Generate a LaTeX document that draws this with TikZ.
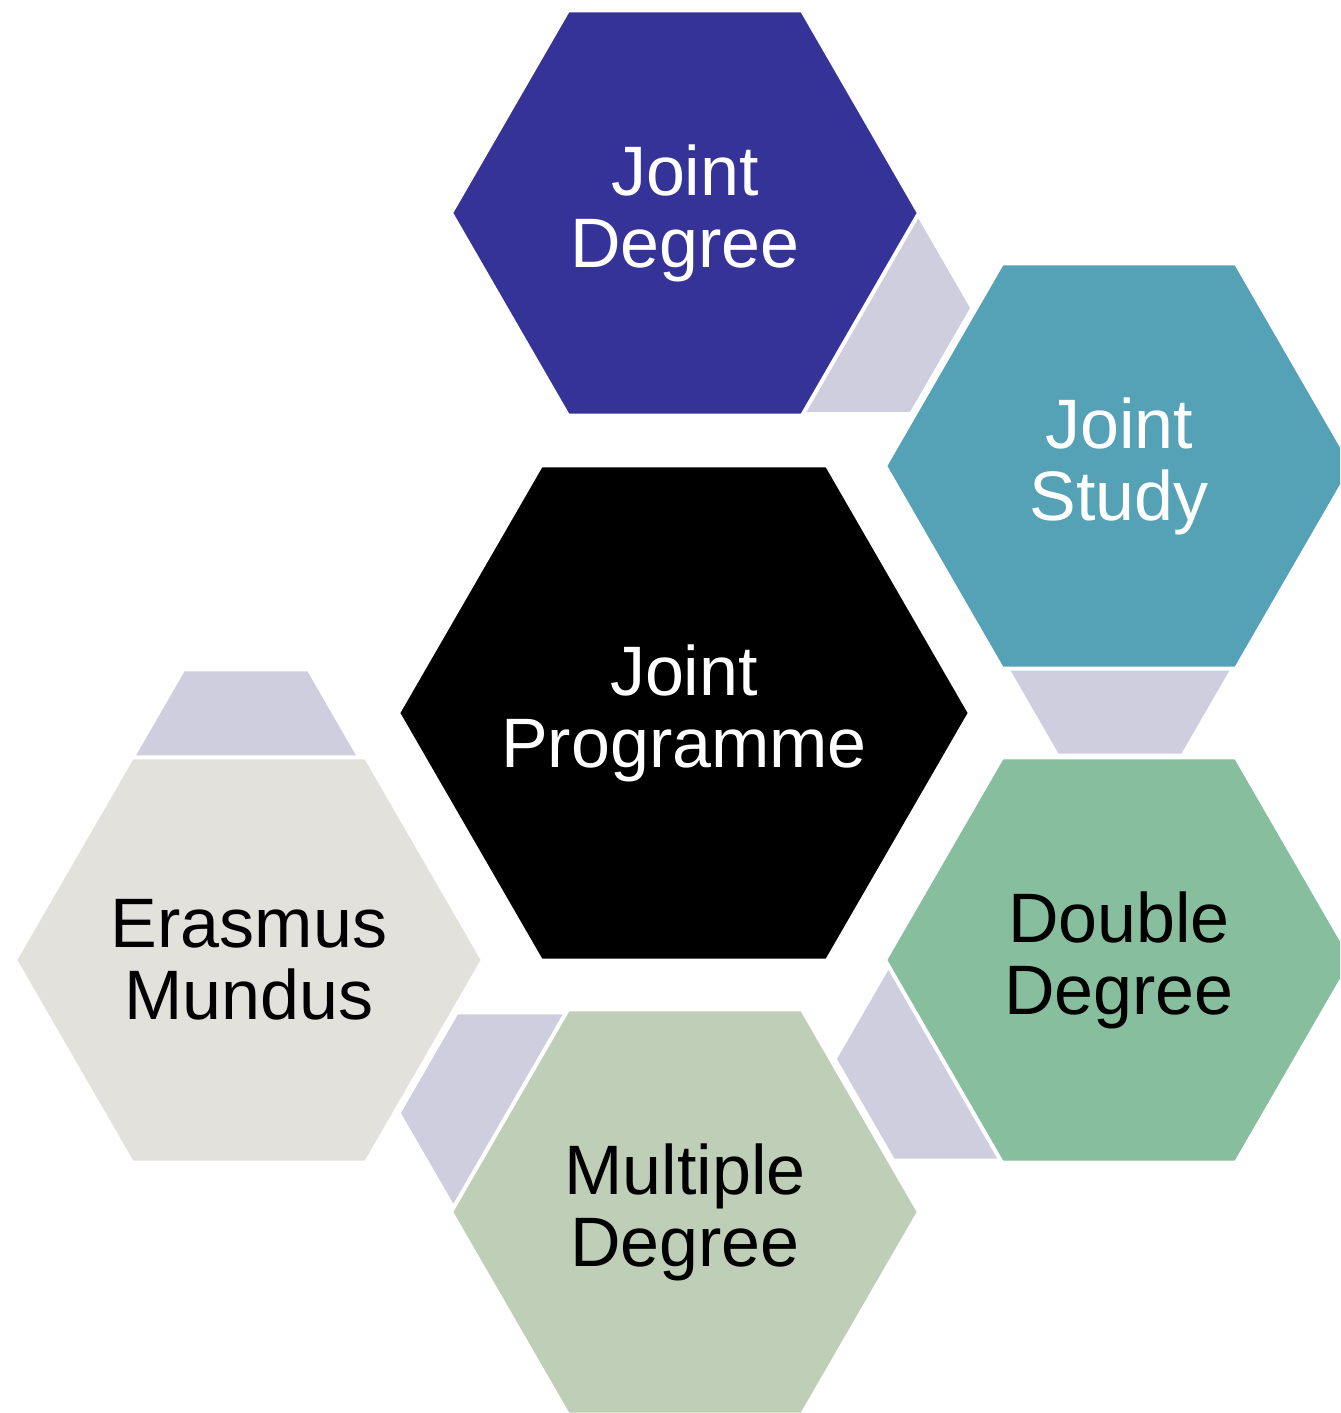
\documentclass[tikz,border=0pt]{standalone}
\usepackage{fontspec}
\setmainfont{Liberation Sans}
\usepackage{xcolor}
\usetikzlibrary{shapes.geometric}

\definecolor{jdblue}{HTML}{363398}
\definecolor{jsteal}{HTML}{55A1B6}
\definecolor{ddgreen}{HTML}{87BE9E}
\definecolor{mdsage}{HTML}{BFCEB7}
\definecolor{emgrey}{HTML}{E2E1DC}
\definecolor{linklilac}{HTML}{CFCEDF}

\begin{document}
\begin{tikzpicture}[
  x=0.5pt, y=-0.5pt,
  hexa/.style={regular polygon, regular polygon sides=6, inner sep=0pt, outer sep=0pt,
    align=center, font=\fontsize{35}{36}\selectfont},
  cell/.style={hexa, draw=white, line width=2pt, minimum size=234pt},
  core/.style={hexa, draw=white, line width=2pt, minimum size=286pt},
  link/.style={hexa, fill=linklilac},
  caption/.style={align=center, inner sep=0pt, font=\fontsize{35}{36}\selectfont}
]
  \useasboundingbox (0,0) rectangle (1340,1413);
  \clip (0,0) rectangle (1340,1413);

  % small pieces behind
  \node[link, minimum size=120pt] (linkjd) at (850,308) {};
  \node[link, minimum size=123pt] (linkjs) at (1120,647) {};
  \node[link, minimum size=115pt] (linkdd) at (952,1059) {};
  \node[link, minimum size=114pt] (linkmd) at (515,1113) {};
  \node[link, minimum size=123pt] (linkem) at (246,778) {};

  % the hexagons
  \node[core, fill=black] (programme) at (684,713) {};
  \node[caption, text=white] (programmetext) at (programme.center) {Joint\\Programme};
  \node[cell, fill=jdblue, text=white] (jointdeg) at (685,213) {Joint\\Degree};
  \node[cell, fill=jsteal, text=white] (jointstudy) at (1119,466) {Joint\\Study};
  \node[cell, fill=ddgreen] (double) at (1119,960) {Double\\Degree};
  \node[cell, fill=mdsage] (multiple) at (685,1212) {Multiple\\Degree};
  \node[cell, fill=emgrey] (erasmus) at (249,960) {Erasmus\\Mundus};
\end{tikzpicture}
\end{document}
